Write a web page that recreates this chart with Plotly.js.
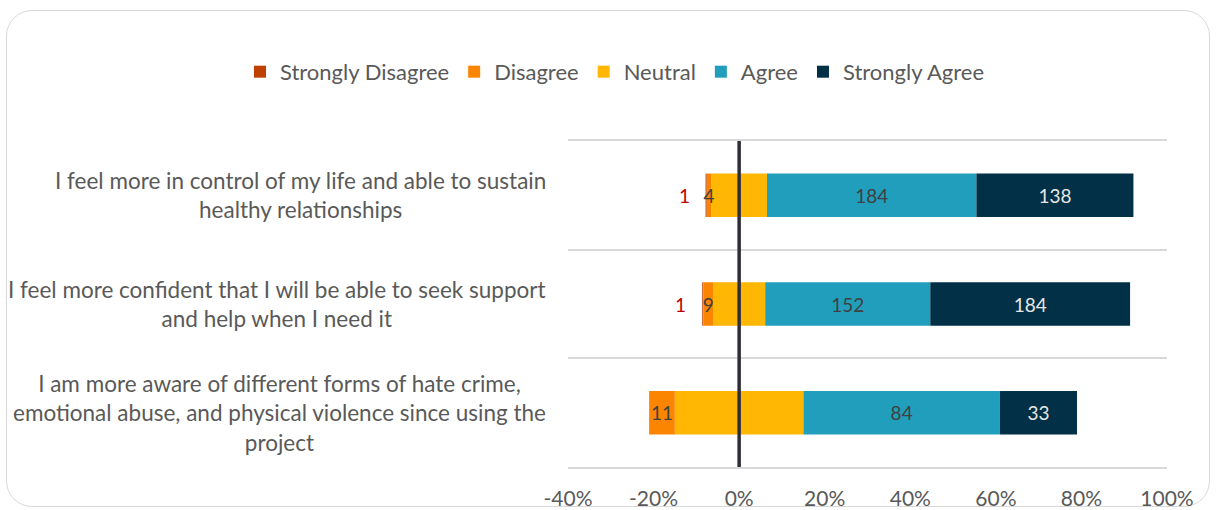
<!DOCTYPE html>
<html>
<head>
<meta charset="utf-8">
<script src="https://cdn.plot.ly/plotly-3.0.1.min.js"></script>
<style>
  html, body { margin: 0; padding: 0; background: #ffffff; }
  #wrap { position: relative; width: 1216px; height: 510px; overflow: hidden; }
  #frame { position: absolute; left: 6px; top: 10px; width: 1204px; height: 497px;
           border: 1.5px solid #d9d9d9; border-radius: 26px; box-sizing: border-box; }
  #chart { position: absolute; left: 0; top: 0; width: 1216px; height: 510px; }
</style>
</head>
<body>
<div id="wrap">
  <div id="frame"></div>
  <div id="chart"></div>
</div>
<script>
// ---- data ----
const categories = [
  "I feel more in control of my life and able to sustain healthy relationships",
  "I feel more confident that I will be able to seek support and help when I need it",
  "I am more aware of different forms of hate crime, emotional abuse, and physical violence since using the project"
];
const categoryLabels = [
  "I feel more in control of my life and able to sustain<br>healthy relationships",
  "I feel more confident that I will be able to seek support<br>and help when I need it",
  "I am more aware of different forms of hate crime,<br>emotional abuse, and physical violence since using the<br>project"
];
const seriesNames = ["Strongly Disagree", "Disagree", "Neutral", "Agree", "Strongly Agree"];
const stronglyDisagree = [1, 1, 0];
const disagree = [4, 9, 11];
const neutral = [49, 48, 55];
const agree = [184, 152, 84];
const stronglyAgree = [138, 184, 33];
const tickValues = [-0.4, -0.2, 0, 0.2, 0.4, 0.6, 0.8, 1.0];
const tickLabels = ["-40%", "-20%", "0%", "20%", "40%", "60%", "80%", "100%"];

// ---- derived shares (diverging around the middle of Neutral) ----
const totals = categories.map((_, i) =>
  stronglyDisagree[i] + disagree[i] + neutral[i] + agree[i] + stronglyAgree[i]);
const share = arr => arr.map((v, i) => v / totals[i]);
const sSD = share(stronglyDisagree), sD = share(disagree), sN = share(neutral),
      sA = share(agree), sSA = share(stronglyAgree);
const halfN = sN.map(v => v / 2);

const colors = ["#BF4000", "#FB8500", "#FFB703", "#219EBC", "#023047"];
const FONT = "Lato, 'Open Sans', sans-serif";
const lbl = arr => arr.map(v => v ? String(v) : "");

function barTrace(name, idx, x, base, text, textColor) {
  return {
    type: "bar", orientation: "h", name: name,
    y: categories, x: x, base: base,
    width: 0.4,
    marker: { color: colors[idx], line: { width: 0 } },
    text: text || null,
    textposition: text ? "inside" : "none",
    insidetextanchor: "middle",
    constraintext: "none",
    textangle: 0,
    insidetextfont: { family: FONT, size: 19, color: textColor || "#404040" },
    hoverinfo: "none",
    legendrank: idx + 1,
    cliponaxis: false
  };
}

// drawing order: Neutral first so that the small Disagree labels sit on top of it
const traces = [
  barTrace(seriesNames[2], 2, sN, halfN.map(h => -h), null),
  barTrace(seriesNames[3], 3, sA, halfN, lbl(agree), "#404040"),
  barTrace(seriesNames[4], 4, sSA, halfN.map((h, i) => h + sA[i]), lbl(stronglyAgree), "#E6E6E6"),
  barTrace(seriesNames[0], 0, sSD.map(v => -v), halfN.map((h, i) => -(h + sD[i])), null),
  barTrace(seriesNames[1], 1, sD.map(v => -v), halfN.map(h => -h), lbl(disagree), "#404040")
];

const annotations = [];
categories.forEach((c, i) => {
  annotations.push({
    xref: "paper", x: 0, xshift: -20, xanchor: "right",
    yref: "y", y: c, yanchor: "middle",
    text: categoryLabels[i], align: "center", showarrow: false,
    font: { family: FONT, size: 22.5, color: "#595959" }
  });
  if (stronglyDisagree[i]) {
    annotations.push({
      xref: "x", x: -(halfN[i] + sD[i] + sSD[i]), xshift: -14, xanchor: "right",
      yref: "y", y: c, yanchor: "middle",
      text: String(stronglyDisagree[i]), showarrow: false,
      font: { family: FONT, size: 19, color: "#C00000" }
    });
  }
});

const layout = {
  width: 1216, height: 510,
  margin: { l: 568, r: 49, t: 141, b: 43, pad: 0 },
  paper_bgcolor: "rgba(0,0,0,0)", plot_bgcolor: "rgba(0,0,0,0)",
  barmode: "overlay",
  showlegend: true,
  legend: {
    orientation: "h", xref: "paper", yref: "paper",
    x: -0.5476, xanchor: "left", y: 1.212, yanchor: "middle",
    font: { family: FONT, size: 22, color: "#595959" },
    traceorder: "normal", itemclick: false, itemdoubleclick: false
  },
  xaxis: {
    range: [-0.4, 1.0], tickvals: tickValues, ticktext: tickLabels,
    showgrid: false, zeroline: false,
    showline: true, mirror: true, linecolor: "#d9d9d9", linewidth: 2,
    ticks: "outside", ticklen: 12, tickcolor: "rgba(0,0,0,0)",
    tickfont: { family: FONT, size: 21, color: "#595959" },
    fixedrange: true
  },
  yaxis: {
    type: "category", autorange: "reversed",
    tickson: "boundaries", showgrid: true, gridcolor: "#d9d9d9", gridwidth: 2,
    showticklabels: false, ticks: "", zeroline: false, showline: false,
    fixedrange: true
  },
  shapes: [{
    type: "line", layer: "above", xref: "x", x0: 0, x1: 0, yref: "paper", y0: 0, y1: 1,
    line: { color: "#2E2E38", width: 3.5 }
  }],
  annotations: annotations,
  font: { family: FONT, color: "#595959" }
};

Plotly.newPlot("chart", traces, layout, { displayModeBar: false, staticPlot: true });
</script>
</body>
</html>
